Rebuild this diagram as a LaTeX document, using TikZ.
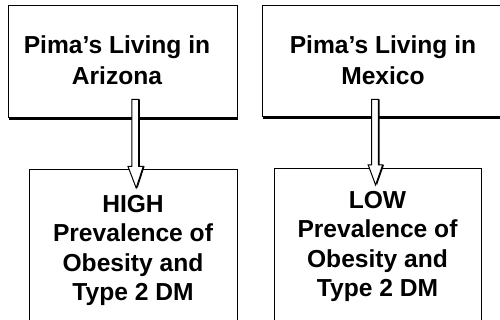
\documentclass[tikz,border=0pt]{standalone}
\usepackage{fontspec}
\setmainfont{Liberation Sans}
\usetikzlibrary{calc,shadows}
\begin{document}
\begin{tikzpicture}[x=1pt,y=-1pt,
  box/.style={draw=black, line width=1pt, fill=white, inner sep=0pt},
  topbox/.style={box, drop shadow={shadow xshift=1pt, shadow yshift=-2.4pt, fill=black, opacity=1}},
  lbltop/.style={font=\fontsize{24.6}{31}\selectfont\bfseries, align=center, inner sep=0pt, anchor=north},
  lblbot/.style={font=\fontsize{24.6}{29.5}\selectfont\bfseries, align=center, inner sep=0pt, anchor=north},
  blockarr/.style={draw=black, line width=1pt, fill=white, line join=miter,
    drop shadow={shadow xshift=1.4pt, shadow yshift=0pt, fill=black, opacity=1}}]
\path[use as bounding box, clip] (0,0) rectangle (500,320);
% top boxes
\node[topbox, minimum width=229pt, minimum height=112pt] (tl) at (122.5,62) {};
\node[topbox, minimum width=243pt, minimum height=111pt] (tr) at (383.5,61.5) {};
% arrow anchors
\coordinate (a1s) at (135.2,99.3);
\coordinate (a1e) at (136.2,188);
\coordinate (a2s) at (375,99.3);
\coordinate (a2e) at (375.6,185);
% bottom boxes
\node[box, minimum width=208pt, minimum height=160pt] (bl) at (133,250) {};
\node[box, minimum width=207pt, minimum height=161pt] (br) at (377.5,249.5) {};
% block arrows
\draw[blockarr] let \p1=(a1s), \p2=(a1e) in
  (\x1-3.3pt,\y1) -- (\x1+3.3pt,\y1) -- (\x1+3.3pt,\y2+21.5pt) -- (\x1+8pt,\y2+21.5pt)
  -- (\x2,\y2) -- (\x1-7.2pt,\y2+21.5pt) -- (\x1-3.3pt,\y2+21.5pt) -- cycle;
\draw[blockarr] let \p1=(a2s), \p2=(a2e) in
  (\x1-3.3pt,\y1) -- (\x1+3.3pt,\y1) -- (\x1+3.3pt,\y2+20pt) -- (\x1+7.6pt,\y2+20pt)
  -- (\x2,\y2) -- (\x1-6.8pt,\y2+20pt) -- (\x1-3.3pt,\y2+20pt) -- cycle;
% labels
\node[lbltop] (tlt) at (117,35) {Pima’s Living in\\Arizona};
\node[lbltop] (trt) at (383,35) {Pima’s Living in\\Mexico};
\node[lblbot] (blt) at (133,195) {HIGH\\Prevalence of\\Obesity and\\Type 2 DM};
\node[lblbot] (brt) at (377.5,190.7) {LOW\\Prevalence of\\Obesity and\\Type 2 DM};
\end{tikzpicture}
\end{document}
